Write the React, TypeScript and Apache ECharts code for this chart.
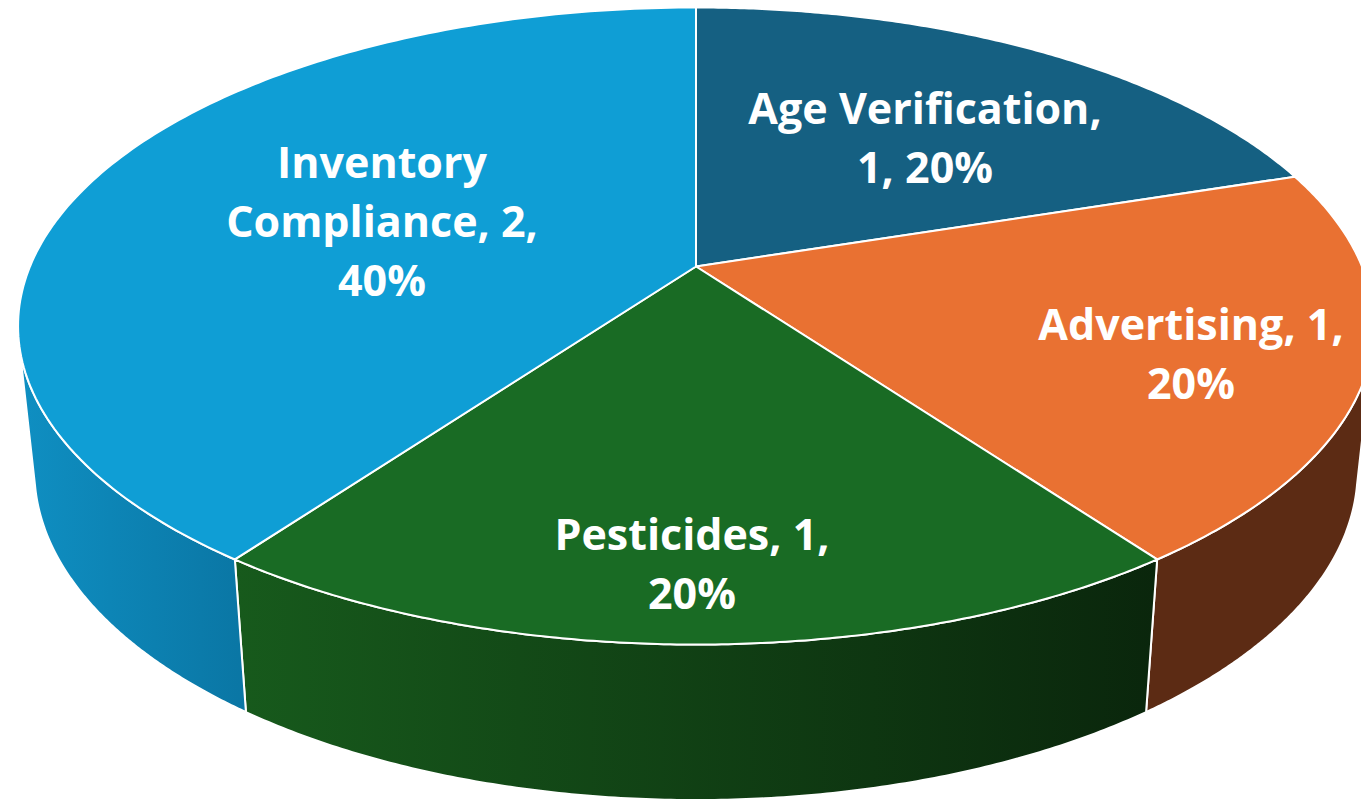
import React, { useEffect, useRef } from "react";
import * as echarts from "echarts";

const categories = ["Age Verification", "Advertising", "Pesticides", "Inventory Compliance"];
const values = [1, 1, 1, 2];
const lineBreaksAfter = [
  ["Verification, "],
  ["Advertising, 1, "],
  ["Pesticides, 1, "],
  ["Inventory ", "Compliance, 2, "],
];
const topColors = ["#156082", "#E97132", "#196B24", "#0F9ED5"];
const sideStops = [
  ["#0D4A64", "#0D4A64"],
  ["#5C2B14", "#5C2B14"],
  ["#175A1C", "#0A260C"],
  ["#0F8FC2", "#0A76A4"],
];
const labelCenters = [
  [925, 137],
  [1191, 353],
  [692, 563],
  [382, 220],
];

const TOTAL = values.reduce((a, b) => a + b, 0);
const CX = 696;
const PERSPECTIVE = 0.1868;
const TOP = { rx: 666, ry: 307.4, cy: 266.5 };
const BOTTOM = { rx: 650, ry: 318, cy: 409 };
// The wall is only seen between the two tangent lines of the cylinder.
const WALL_FROM = (103.3 / 180) * Math.PI;
const WALL_TO = (256.7 / 180) * Math.PI;

function project(face: typeof TOP, angle: number) {
  const X = Math.sin(angle);
  const Y = -Math.cos(angle);
  const w = 1 - PERSPECTIVE * Y;
  return [CX + (face.rx * X) / w, face.cy + (face.ry * Y) / w];
}

function sliceAngles(index: number) {
  const before = values.slice(0, index).reduce((a, b) => a + b, 0);
  const start = (before / TOTAL) * Math.PI * 2;
  const end = ((before + values[index]) / TOTAL) * Math.PI * 2;
  return [start, end];
}

function arcPoints(face: typeof TOP, start: number, end: number) {
  const steps = 160;
  const pts: number[][] = [];
  for (let i = 0; i <= steps; i++) pts.push(project(face, start + ((end - start) * i) / steps));
  return pts;
}

function labelText(index: number) {
  const pct = Math.round((values[index] / TOTAL) * 100);
  let text = `${categories[index]}, ${values[index]}, ${pct}%`;
  for (const token of lineBreaksAfter[index]) text = text.replace(token, token.trimEnd() + "\n");
  return text;
}

export default function App() {
  const ref = useRef<HTMLDivElement>(null);
  useEffect(() => {
    document.body.style.margin = "0";
    const chart = echarts.init(ref.current!, undefined, { renderer: "svg" });
    const data = categories.map((name, i) => ({ name, value: values[i] }));
    chart.setOption({
      animation: false,
      backgroundColor: "#ffffff",
      series: [
        {
          type: "custom",
          coordinateSystem: "none",
          silent: true,
          z: 1,
          data,
          renderItem: (params: any) => {
            const i = params.dataIndex;
            const [s0, e0] = sliceAngles(i);
            const s = Math.max(s0, WALL_FROM);
            const e = Math.min(e0, WALL_TO);
            if (e <= s) return { type: "group", children: [] };
            const top = arcPoints(TOP, s, e);
            const bottom = arcPoints(BOTTOM, s, e).reverse();
            return {
              type: "polygon",
              shape: { points: [...top, ...bottom] },
              style: {
                fill: new echarts.graphic.LinearGradient(0, 0, 1, 0, [
                  { offset: 0, color: sideStops[i][0] },
                  { offset: 1, color: sideStops[i][1] },
                ]),
                stroke: "#ffffff",
                lineWidth: 2,
                lineJoin: "round",
              },
            };
          },
        },
        {
          type: "custom",
          coordinateSystem: "none",
          silent: true,
          z: 2,
          data,
          renderItem: (params: any) => {
            const i = params.dataIndex;
            const [s, e] = sliceAngles(i);
            return {
              type: "polygon",
              shape: { points: [[CX, TOP.cy], ...arcPoints(TOP, s, e)] },
              style: { fill: topColors[i], stroke: "#ffffff", lineWidth: 2, lineJoin: "round" },
            };
          },
        },
        {
          type: "custom",
          coordinateSystem: "none",
          silent: true,
          z: 3,
          data,
          renderItem: (params: any) => {
            const i = params.dataIndex;
            return {
              type: "text",
              style: {
                x: labelCenters[i][0],
                y: labelCenters[i][1],
                text: labelText(i),
                fill: "#ffffff",
                align: "center",
                verticalAlign: "middle",
                fontFamily: "Open Sans",
                fontWeight: 700,
                fontSize: 43,
                lineHeight: 59,
              },
            };
          },
        },
      ],
    });
    return () => chart.dispose();
  }, []);
  return <div ref={ref} style={{ position: "absolute", left: 0, top: 0, width: 1361, height: 801, overflow: "hidden" }} />;
}
